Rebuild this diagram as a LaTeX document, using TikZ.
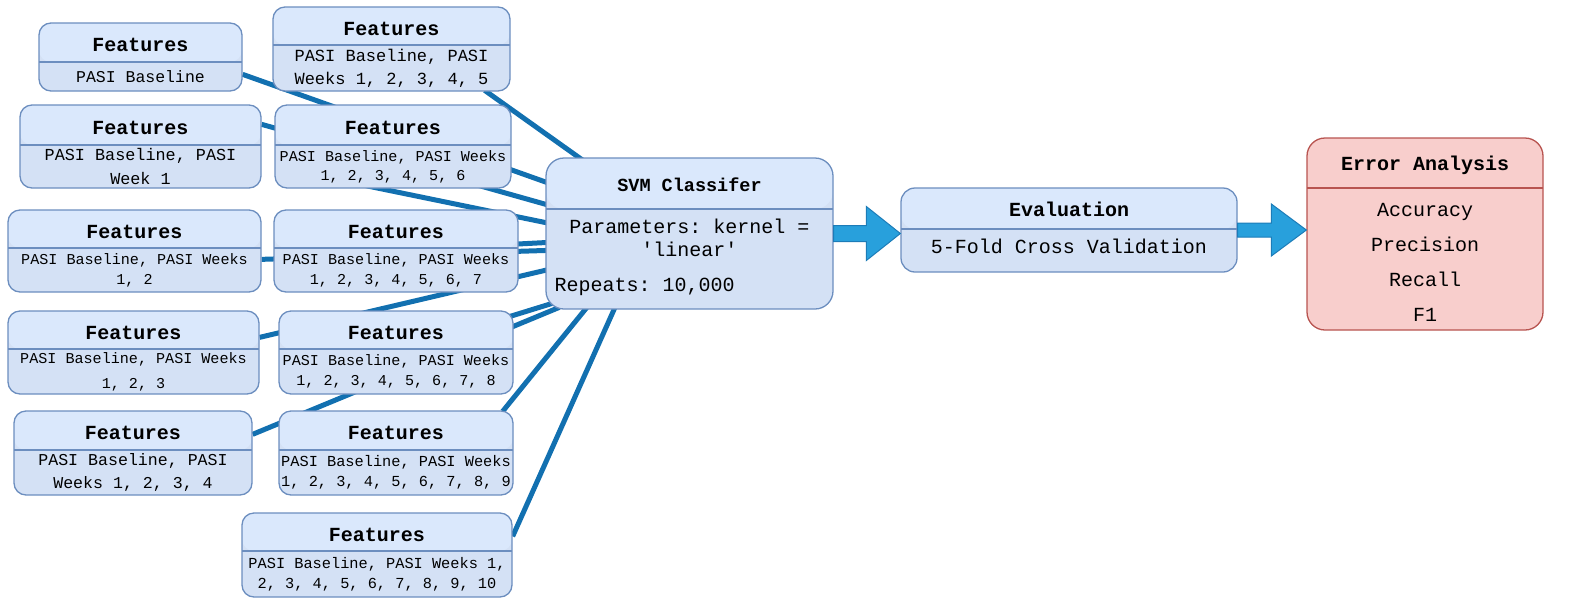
\documentclass[tikz,border=0pt]{standalone}
\usepackage{fontspec}
\setmonofont{Liberation Mono}
\usetikzlibrary{calc,backgrounds}
\definecolor{headblue}{HTML}{DAE8FC}
\definecolor{bodyblue}{HTML}{D4E1F5}
\definecolor{edgeblue}{HTML}{6C8EBF}
\definecolor{headred}{HTML}{F8CECC}
\definecolor{edgered}{HTML}{B85450}
\definecolor{wireblue}{HTML}{1270B0}
\definecolor{arrowfill}{HTML}{28A0DC}
\definecolor{arrowedge}{HTML}{1C7CB8}

\begin{document}
\begin{tikzpicture}[x=1pt, y=-1pt,
	box/.style n args={3}{draw=edgeblue, fill=bodyblue, line width=1.3pt, rounded corners=12pt, inner sep=0pt,
		minimum width=#1pt, minimum height=#2pt,
		path picture={\fill[headblue] (path picture bounding box.north west) rectangle ([yshift=-#3pt]path picture bounding box.north east);
			\draw[edgeblue, line width=1.3pt] ([yshift=-#3pt]path picture bounding box.north west) -- ([yshift=-#3pt]path picture bounding box.north east);}},
	errbox/.style={draw=edgered, fill=headred, line width=1.3pt, rounded corners=18pt, inner sep=0pt,
		minimum width=236pt, minimum height=192pt,
		path picture={\draw[edgered, line width=1.3pt] ([yshift=-50pt]path picture bounding box.north west) -- ([yshift=-50pt]path picture bounding box.north east);}},
	ttl/.style={font=\ttfamily\bfseries\fontsize{20}{24}\selectfont, inner sep=0pt},
	txt/.style={align=center, inner sep=0pt},
	wire/.style={draw=wireblue, line width=5pt},
	bigarrow/.style={fill=arrowfill, draw=arrowedge, line width=1pt, line join=miter}]
	\useasboundingbox (0,0) rectangle (1580,614);

	\foreach \nm/\cx/\cy/\bwid/\bht/\hht/\fsz/\lsk/\txt in {
		f1/140.5/57/203/68/39/16.5/23/{PASI Baseline},
		f5/391.5/49/237/84/38/17/23/{PASI Baseline, PASI\\Weeks 1, 2, 3, 4, 5},
		f2/140.5/146.5/241/83/40/16.8/24/{PASI Baseline, PASI\\Week 1},
		f6/393/146.5/236/83/40/15.1/19/{PASI Baseline, PASI Weeks\\1, 2, 3, 4, 5, 6},
		f3/134.5/251/253/82/38/15.1/20/{PASI Baseline, PASI Weeks\\1, 2},
		f7/396/251/244/82/38/15.1/20/{PASI Baseline, PASI Weeks\\1, 2, 3, 4, 5, 6, 7},
		f4/133.5/352.5/251/83/38/15.1/25/{PASI Baseline, PASI Weeks\\1, 2, 3},
		f8/396/352.5/234/83/38/15.1/20/{PASI Baseline, PASI Weeks\\1, 2, 3, 4, 5, 6, 7, 8},
		f9/133/453/238/84/39/16.6/23/{PASI Baseline, PASI\\Weeks 1, 2, 3, 4},
		f10/396/453/234/84/39/15.3/20/{PASI Baseline, PASI Weeks\\1, 2, 3, 4, 5, 6, 7, 8, 9},
		f11/377/555/270/84/38/15.3/20/{PASI Baseline, PASI Weeks 1,\\2, 3, 4, 5, 6, 7, 8, 9, 10}}{
		\node[box={\bwid}{\bht}{\hht}] (\nm) at (\cx,\cy) {};
		\node[ttl] (\nm t) at ($(\nm.north)+(0,\hht/2+3.5)$) {Features};
		\node[txt, font=\ttfamily\fontsize{\fsz}{\lsk}\selectfont] (\nm b) at ($(\nm.center)+(0,\hht/2)$) {\txt};
	}

	\node[box={287}{151}{51}, rounded corners=18pt] (svm) at (689.5,233.5) {};
	\node[ttl, font=\ttfamily\bfseries\fontsize{18.5}{22}\selectfont] (svmt) at ($(svm.north)+(0,27.5)$) {SVM Classifer};
	\node[txt, font=\ttfamily\fontsize{20}{22.5}\selectfont] (svmb) at ($(svm.center)+(0,4.5)$) {Parameters: kernel =\\'linear'};
	\node[txt, anchor=west, font=\ttfamily\fontsize{20}{22.5}\selectfont] (svmr) at ($(svm.west)+(9,53.5)$) {Repeats: 10,000};

	\node[box={336}{84}{41}, rounded corners=14pt] (eval) at (1069,230) {};
	\node[ttl] (evalt) at ($(eval.north)+(0,22)$) {Evaluation};
	\node[txt, font=\ttfamily\fontsize{20}{24}\selectfont] (evalb) at ($(eval.center)+(0,16)$) {5-Fold Cross Validation};

	\node[errbox] (err) at (1425,234) {};
	\node[ttl] (errt) at ($(err.north)+(0,27.5)$) {Error Analysis};
	\node[txt, font=\ttfamily\fontsize{20}{35}\selectfont] (errb) at ($(err.center)+(0,28.5)$) {Accuracy\\Precision\\Recall\\F1};

	\begin{scope}[on background layer]
		\foreach \nm/\dx/\dy/\ex/\ey in {f1/0/52/4/26, f2/0/20/4/48, f6/-196/71/4/66, f3/0/50/4/93,
			f7/-122/41/4/85, f4/0/27/4/112, f8/-117/41/7/146, f9/0/24/14/150,
			f10/-11/1/44/147, f11/0/24/71/147, f5/-26/84/39/4}
			\draw[wire] ($(\nm.north east)+(\dx,\dy)$) -- ($(svm.north west)+(\ex,\ey)$);
	\end{scope}

	\coordinate (tipa) at (eval.west |- svm.east);
	\draw[bigarrow] ($(svm.east)+(0,-8)$) -- ($(tipa)+(-34,-8)$) -- ($(tipa)+(-34,-27)$) -- (tipa)
		-- ($(tipa)+(-34,27)$) -- ($(tipa)+(-34,8)$) -- ($(svm.east)+(0,8)$) -- cycle;
	\coordinate (tipb) at (err.west |- eval.east);
	\draw[bigarrow] ($(eval.east)+(0,-7)$) -- ($(tipb)+(-35,-7)$) -- ($(tipb)+(-35,-26)$) -- (tipb)
		-- ($(tipb)+(-35,26)$) -- ($(tipb)+(-35,7)$) -- ($(eval.east)+(0,7)$) -- cycle;
\end{tikzpicture}
\end{document}
